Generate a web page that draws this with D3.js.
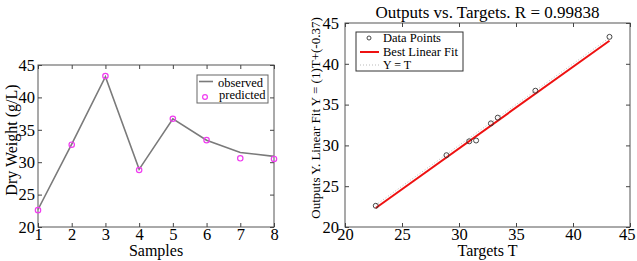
<!DOCTYPE html>
<html>
<head>
<meta charset="utf-8">
<script src="https://cdn.jsdelivr.net/npm/d3@7/dist/d3.min.js"></script>
<style>
  body { margin: 0; background: #fff; }
  svg text { font-family: "Liberation Serif", "DejaVu Serif", serif; fill: #000; }
  .axis line { stroke: #444; }
</style>
</head>
<body>
<div id="chart"></div>
<script>
// data
var samples = [1, 2, 3, 4, 5, 6, 7, 8];
var observed = [22.7, 32.8, 43.2, 28.9, 36.7, 33.4, 31.5, 30.9];
var predicted = [22.6, 32.7, 43.3, 28.8, 36.7, 33.4, 30.6, 30.5];
var valueTicks = [20, 25, 30, 35, 40, 45];
var fitSlope = 1, fitIntercept = -0.37;
var rValue = '0.99838';

var W = 637, H = 261;
var serif = '"Liberation Serif", "DejaVu Serif", serif';

var svg = d3.select('#chart').append('svg')
    .attr('width', W)
    .attr('height', H);

// MATLAB style box with inward ticks on all four sides
function boxAxes(g, x, y, box, xTicks, yTicks, yPad) {
    var tl = 4;
    g.append('rect')
        .attr('x', box.x0).attr('y', box.y0)
        .attr('width', box.x1 - box.x0).attr('height', box.y1 - box.y0)
        .attr('fill', '#fff').attr('stroke', '#555').attr('stroke-width', 1);

    var xb = g.append('g').attr('class', 'axis')
        .attr('transform', 'translate(0,' + box.y1 + ')')
        .call(d3.axisBottom(x).tickValues(xTicks).tickSize(-tl).tickPadding(1).tickFormat(d3.format('d')))
        .call(s => s.select('.domain').remove())
        .attr('font-family', serif)
        .attr('font-size', 16.5);

    g.append('g').attr('class', 'axis')
        .attr('transform', 'translate(0,' + box.y0 + ')')
        .call(d3.axisTop(x).tickValues(xTicks).tickSize(-tl).tickFormat(''))
        .call(s => s.select('.domain').remove());

    g.append('g').attr('class', 'axis')
        .attr('transform', 'translate(' + box.x0 + ',0)')
        .call(d3.axisLeft(y).tickValues(yTicks).tickSize(-tl).tickPadding(yPad).tickFormat(d3.format('d')))
        .call(s => s.select('.domain').remove())
        .attr('font-family', serif)
        .attr('font-size', 16.5);

    g.append('g').attr('class', 'axis')
        .attr('transform', 'translate(' + box.x1 + ',0)')
        .call(d3.axisRight(y).tickValues(yTicks).tickSize(-tl).tickFormat(''))
        .call(s => s.select('.domain').remove());

    return xb;
}

///////////////////////////////////////////////////////////////
// left: observed vs predicted per sample
///////////////////////////////////////////////////////////////

var left = { x0: 38, x1: 274, y0: 65, y1: 227 };

var x1 = d3.scaleLinear().domain([1, 8]).range([left.x0, left.x1]);
var y1 = d3.scaleLinear().domain([20, 45]).range([left.y1, left.y0]);

var g1 = svg.append('g');
boxAxes(g1, x1, y1, left, samples, valueTicks, 3);

var obsData = samples.map((s, i) => ({ s: s, v: observed[i] }));
var predData = samples.map((s, i) => ({ s: s, v: predicted[i] }));

g1.append('path')
    .datum(obsData)
    .attr('fill', 'none')
    .attr('stroke', '#7a7a7a')
    .attr('stroke-width', 1.6)
    .attr('d', d3.line().x(d => x1(d.s)).y(d => y1(d.v)));

g1.selectAll('.pred')
    .data(predData)
    .enter().append('circle')
    .attr('class', 'pred')
    .attr('cx', d => x1(d.s))
    .attr('cy', d => y1(d.v))
    .attr('r', 2.7)
    .attr('fill', 'none')
    .attr('stroke', '#f03cf0')
    .attr('stroke-width', 1.2);

// legend
var lg1 = g1.append('g');
lg1.append('rect')
    .attr('x', 197).attr('y', 75).attr('width', 71).attr('height', 28)
    .attr('fill', '#fff').attr('stroke', '#666').attr('stroke-width', 1);
lg1.append('line')
    .attr('x1', 199).attr('x2', 213).attr('y1', 81.5).attr('y2', 81.5)
    .attr('stroke', '#7a7a7a').attr('stroke-width', 1.6);
lg1.append('circle')
    .attr('cx', 205).attr('cy', 97).attr('r', 2.4)
    .attr('fill', 'none').attr('stroke', '#f03cf0').attr('stroke-width', 1.2);
lg1.append('text').attr('x', 218).attr('y', 86.5).style('font-size', '12.5px').text('observed');
lg1.append('text').attr('x', 219).attr('y', 99).style('font-size', '12.5px').text('predicted');

g1.append('text')
    .attr('x', x1(4.5)).attr('y', 256)
    .attr('text-anchor', 'middle')
    .style('font-size', '16px')
    .text('Samples');

g1.append('text')
    .attr('transform', 'translate(17,140) rotate(-90)')
    .attr('text-anchor', 'middle')
    .style('font-size', '16px')
    .text('Dry Weight (g/L)');

///////////////////////////////////////////////////////////////
// right: regression of outputs on targets
///////////////////////////////////////////////////////////////

var right = { x0: 345, x1: 630, y0: 23, y1: 227 };

var x2 = d3.scaleLinear().domain([20, 45]).range([right.x0, right.x1]);
var y2 = d3.scaleLinear().domain([20, 45]).range([right.y1, right.y0]);

var g2 = svg.append('g');
var xb2 = boxAxes(g2, x2, y2, right, valueTicks, valueTicks, 6);
// last label pulled in so it stays inside the picture
xb2.selectAll('.tick').filter(d => d === 45).select('text')
    .attr('text-anchor', 'end').attr('x', 5);

var pairs = observed.map((t, i) => ({ t: t, y: predicted[i] }));
var tExt = d3.extent(observed);

// Y = T
g2.append('line')
    .attr('x1', x2(tExt[0])).attr('y1', y2(tExt[0]))
    .attr('x2', x2(tExt[1])).attr('y2', y2(tExt[1]))
    .attr('stroke', '#bbb').attr('stroke-dasharray', '1,2').attr('stroke-width', 1);

// best linear fit
g2.append('line')
    .attr('x1', x2(tExt[0])).attr('y1', y2(fitSlope * tExt[0] + fitIntercept))
    .attr('x2', x2(tExt[1])).attr('y2', y2(fitSlope * tExt[1] + fitIntercept))
    .attr('stroke', '#ee1111').attr('stroke-width', 2);

g2.selectAll('.pt')
    .data(pairs)
    .enter().append('circle')
    .attr('class', 'pt')
    .attr('cx', d => x2(d.t))
    .attr('cy', d => y2(d.y))
    .attr('r', 2.5)
    .attr('fill', 'none')
    .attr('stroke', '#333')
    .attr('stroke-width', 0.9);

var lg2 = g2.append('g');
lg2.append('rect')
    .attr('x', 356).attr('y', 32).attr('width', 107).attr('height', 39)
    .attr('fill', '#fff').attr('stroke', '#333').attr('stroke-width', 1);
lg2.append('circle')
    .attr('cx', 369).attr('cy', 38).attr('r', 2)
    .attr('fill', 'none').attr('stroke', '#333').attr('stroke-width', 0.9);
lg2.append('line')
    .attr('x1', 360).attr('x2', 379).attr('y1', 52).attr('y2', 52)
    .attr('stroke', '#ee1111').attr('stroke-width', 2);
lg2.append('line')
    .attr('x1', 360).attr('x2', 379).attr('y1', 65).attr('y2', 65)
    .attr('stroke', '#bbb').attr('stroke-dasharray', '1,2');
lg2.append('text').attr('x', 383).attr('y', 42).style('font-size', '12.5px').text('Data Points');
lg2.append('text').attr('x', 383).attr('y', 56).style('font-size', '12.5px').text('Best Linear Fit');
lg2.append('text').attr('x', 383).attr('y', 69).style('font-size', '12px').text('Y = T');

g2.append('text')
    .attr('x', (right.x0 + right.x1) / 2).attr('y', 18)
    .attr('text-anchor', 'middle')
    .style('font-size', '17px')
    .text('Outputs vs. Targets. R = ' + rValue);

g2.append('text')
    .attr('x', x2(32.5)).attr('y', 256)
    .attr('text-anchor', 'middle')
    .style('font-size', '16px')
    .text('Targets T');

g2.append('text')
    .attr('transform', 'translate(320,118) rotate(-90)')
    .attr('text-anchor', 'middle')
    .style('font-size', '13px')
    .text('Outputs Y. Linear Fit Y = (' + fitSlope + ')T+(' + fitIntercept + ')');
</script>
</body>
</html>
